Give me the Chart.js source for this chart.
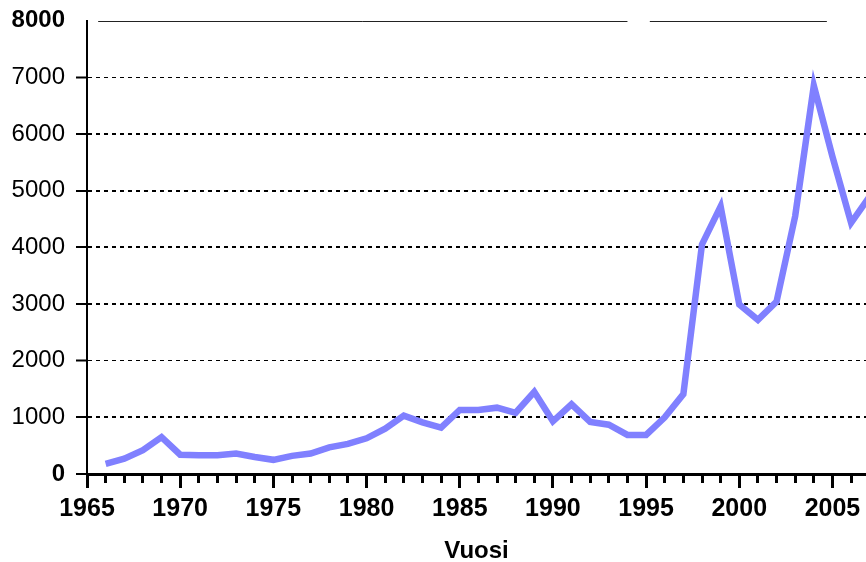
<!DOCTYPE html>
<html>
<head>
<meta charset="utf-8">
<script src="https://cdn.jsdelivr.net/npm/chart.js@4.4.0/dist/chart.umd.min.js"></script>
<style>
  body { margin: 0; background: #fff; }
  canvas { display: block; }
</style>
</head>
<body>
<canvas id="myChart" width="866" height="562"></canvas>
<script>
// data
const years = [1966, 1967, 1968, 1969, 1970, 1971, 1972, 1973, 1974, 1975,
  1976, 1977, 1978, 1979, 1980, 1981, 1982, 1983, 1984, 1985,
  1986, 1987, 1988, 1989, 1990, 1991, 1992, 1993, 1994, 1995,
  1996, 1997, 1998, 1999, 2000, 2001, 2002, 2003, 2004, 2005,
  2006, 2007]
const values = [180, 270, 420, 650, 340, 330, 330, 360, 300, 250,
  320, 360, 470, 530, 630, 800, 1030, 910, 820, 1130,
  1130, 1170, 1080, 1450, 930, 1230, 920, 870, 690, 690,
  1000, 1410, 4050, 4720, 2990, 2720, 3040, 4550, 6850, 5600,
  4430, 4900]
const xLabelYears = [1965, 1970, 1975, 1980, 1985, 1990, 1995, 2000, 2005]
const yTicks = [0, 1000, 2000, 3000, 4000, 5000, 6000, 7000, 8000]
const xTitle = 'Vuosi'

Chart.defaults.font.family = '"Liberation Sans", Arial, sans-serif'
Chart.defaults.color = '#000'

let points = years.map((y, i) => ({ x: y, y: values[i] }))

// thin frame line along the top (has a gap in the original)
const topLine = {
  id: 'topLine',
  afterDraw(chart) {
    const ctx = chart.ctx
    const xs = chart.scales.x
    const ys = chart.scales.y
    const y = Math.round(ys.getPixelForValue(yTicks[yTicks.length - 1])) + 0.5
    ctx.save()
    ctx.strokeStyle = '#222'
    ctx.lineWidth = 1
    ;[[1965.6, 1994.0], [1995.2, 2004.7]].forEach(function (seg) {
      ctx.beginPath()
      ctx.moveTo(xs.getPixelForValue(seg[0]), y)
      ctx.lineTo(xs.getPixelForValue(seg[1]), y)
      ctx.stroke()
    })
    ctx.restore()
  }
}

let chart = document.querySelector('#myChart')

let myChart = new Chart(chart, {
  type: 'line',
  data: {
    datasets: [{
      data: points,
      borderColor: 'rgb(128, 128, 255)',
      borderWidth: 6.5,
      pointRadius: 0,
      tension: 0,
      fill: false
    }]
  },
  options: {
    responsive: false,
    animation: false,
    layout: { padding: { top: 20.5, right: 0, bottom: 0, left: 0 } },
    plugins: {
      legend: { display: false },
      tooltip: { enabled: false }
    },
    scales: {
      x: {
        type: 'linear',
        min: 1965,
        max: 2006.8,
        afterFit: (s) => { s.height = 88 },
        ticks: {
          stepSize: 1,
          maxTicksLimit: 100,
          includeBounds: false,
          autoSkip: false,
          maxRotation: 0,
          padding: 6,
          font: { size: 25, weight: 'bold' },
          callback: (v) => xLabelYears.includes(v) ? String(v) : ''
        },
        grid: {
          drawOnChartArea: false,
          tickLength: 14,
          tickWidth: 3,
          tickColor: '#000',
          // short minor ticks every year, long ones every 5 years
          tickBorderDash: (c) => (c.tick && c.tick.value % 5 === 0) ? [] : [7, 100]
        },
        border: { color: '#000', width: 3 },
        title: {
          display: true,
          text: xTitle,
          font: { size: 24, weight: 'bold', lineHeight: 0.9 },
          padding: 0
        }
      },
      y: {
        min: 0,
        max: 8000,
        afterFit: (s) => {
          s.width = 87
          s.paddingTop = 0
          s.paddingBottom = 0
        },
        afterBuildTicks: (s) => { s.ticks = yTicks.map(v => ({ value: v })) },
        ticks: {
          padding: 11,
          callback: (v) => String(v),
          font: (c) => {
            let v = c.tick ? c.tick.value : 1
            return { size: 24, weight: (v === 0 || v === 8000) ? 'bold' : 'normal' }
          }
        },
        grid: {
          tickLength: 11,
          tickWidth: 2,
          tickBorderDash: [],
          tickColor: (c) => (c.tick && c.tick.value === 8000) ? 'rgba(0,0,0,0)' : '#000',
          color: (c) => (c.tick && (c.tick.value === 0 || c.tick.value === 8000)) ? 'rgba(0,0,0,0)' : '#000',
          lineWidth: (c) => (c.tick && (c.tick.value === 2000 || c.tick.value === 7000)) ? 1 : 2
        },
        border: { color: '#000', width: 2, dash: [4, 4] }
      }
    }
  },
  plugins: [topLine]
})
</script>
</body>
</html>
